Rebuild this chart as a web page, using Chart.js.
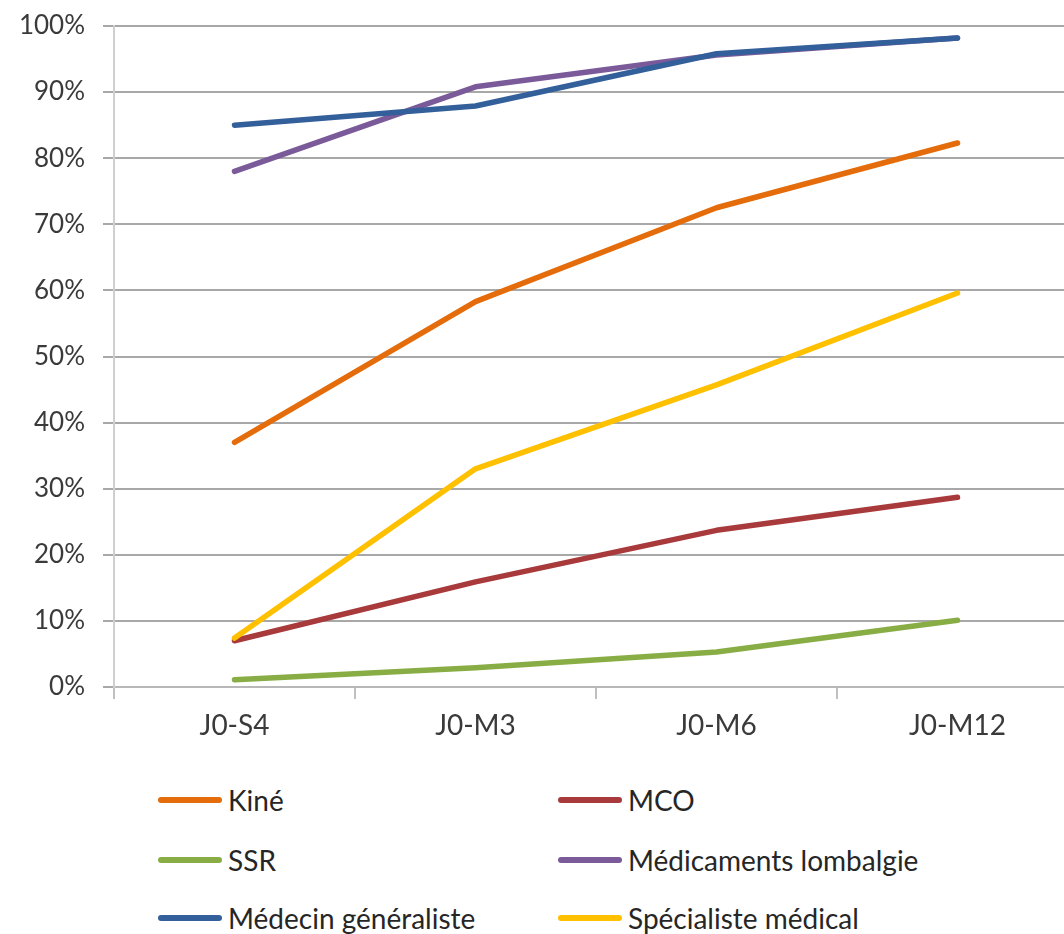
<!DOCTYPE html>
<html>
<head>
<meta charset="utf-8">
<script src="https://cdn.jsdelivr.net/npm/chart.js@4.4.1/dist/chart.umd.min.js"></script>
<style>
    body { margin: 0; background: #fff; overflow: hidden; width: 1064px; height: 934px; position: relative; }
    #chart { position: absolute; left: 0; top: 0; }
    .key { position: absolute; font-family: Lato, sans-serif; font-size: 28px; color: #262626; white-space: nowrap; line-height: 34px; }
    .key span.swatch { position: absolute; top: 14px; width: 64px; height: 6px; border-radius: 3px; }
    .key span.txt { position: absolute; left: 70px; top: 0; }
</style>
</head>
<body>
<canvas id="chart" width="1080" height="760"></canvas>
<div id="legend"></div>
<script>
const periods = ['J0-S4', 'J0-M3', 'J0-M6', 'J0-M12'];

const kine = [37, 58.3, 72.5, 82.3];
const mco = [7, 15.9, 23.7, 28.7];
const ssr = [1.1, 2.9, 5.3, 10.1];
const medicaments = [78, 90.8, 95.6, 98.2];
const generaliste = [85, 87.9, 95.8, 98.2];
const specialiste = [7.4, 33, 45.7, 59.6];

const seriesNames = ['Kiné', 'MCO', 'SSR', 'Médicaments lombalgie', 'Médecin généraliste', 'Spécialiste médical'];
const seriesValues = [kine, mco, ssr, medicaments, generaliste, specialiste];
const seriesColors = ['#e46c0a', '#a93a3b', '#88ad45', '#7a5a99', '#33609a', '#ffc000'];

const datasets = seriesNames.map((name, i) => ({
    label: name,
    data: seriesValues[i],
    borderColor: seriesColors[i],
    backgroundColor: seriesColors[i],
    borderWidth: 5.5,
    borderCapStyle: 'round',
    borderJoinStyle: 'round',
    pointRadius: 0,
    tension: 0,
    fill: false,
    order: seriesNames.length - i   // later series on top
}));

const ctx = document.getElementById('chart').getContext('2d');
new Chart(ctx, {
    type: 'line',
    data: { labels: periods, datasets: datasets },
    options: {
        responsive: false,
        animation: false,
        layout: { padding: { top: 26, right: 2, left: 0, bottom: 0 } },
        plugins: {
            legend: { display: false },
            tooltip: { enabled: false }
        },
        scales: {
            x: {
                offset: true,
                afterFit: (scale) => { scale.height = 73; },
                grid: {
                    offset: true,
                    drawOnChartArea: false,
                    drawTicks: true,
                    tickLength: 12,
                    color: '#c0c0c0',
                    lineWidth: 2
                },
                border: { color: '#b8b8b8', width: 2 },
                ticks: {
                    color: '#3a3a3a',
                    font: { family: 'Lato', size: 28 },
                    padding: 10,
                    maxRotation: 0
                }
            },
            y: {
                min: 0,
                max: 100,
                afterFit: (scale) => {
                    scale.width = 114;
                    scale.paddingTop = 0;
                    scale.paddingBottom = 0;
                },
                grid: {
                    color: '#a8a8a8',
                    lineWidth: 2,
                    drawTicks: true,
                    tickLength: 11
                },
                border: { color: '#cfcfcf', width: 2 },
                ticks: {
                    stepSize: 10,
                    color: '#3a3a3a',
                    font: { family: 'Lato', size: 26 },
                    padding: 18,
                    callback: (v) => v + '%'
                }
            }
        }
    }
});

// two-column legend under the plot
const legendPos = [[158, 783], [558, 783], [158, 843], [558, 843], [158, 901], [558, 901]];
const legend = document.getElementById('legend');
seriesNames.forEach((name, i) => {
    const item = document.createElement('div');
    item.className = 'key';
    item.style.left = legendPos[i][0] + 'px';
    item.style.top = legendPos[i][1] + 'px';
    item.innerHTML = '<span class="swatch" style="background:' + seriesColors[i] + '"></span><span class="txt"></span>';
    item.querySelector('.txt').textContent = name;
    legend.appendChild(item);
});
</script>
</body>
</html>
